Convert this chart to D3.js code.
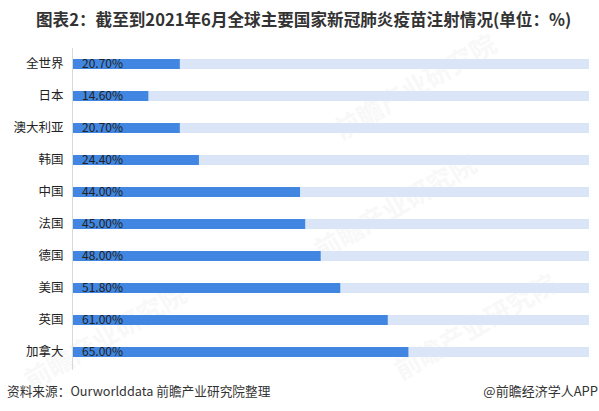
<!DOCTYPE html>
<html>
<head>
<meta charset="utf-8">
<script src="https://cdn.jsdelivr.net/npm/d3@7"></script>
<style>
  body { margin: 0; background: #fff; }
  svg text { font-family: "Noto Sans CJK SC", "Noto Sans", sans-serif; }
</style>
</head>
<body>
<div id="chart"></div>
<script>
var countries = ["全世界", "日本", "澳大利亚", "韩国", "中国", "法国", "德国", "美国", "英国", "加拿大"];
var rates = [20.7, 14.6, 20.7, 24.4, 44.0, 45.0, 48.0, 51.8, 61.0, 65.0];
var maxRate = 100;

var width = 599, height = 411;

var svg = d3.select("#chart").append("svg")
    .attr("width", width)
    .attr("height", height);

// faint watermarks
var marks = [[420, 95], [400, 215], [110, 345], [480, 335]];
svg.selectAll(".wm").data(marks).enter().append("text")
    .attr("class", "wm")
    .attr("transform", function(d){ return "translate(" + d[0] + "," + d[1] + ") rotate(-30)"; })
    .attr("text-anchor", "middle")
    .style("font-size", "26px")
    .style("font-weight", "bold")
    .style("fill", "#000")
    .style("opacity", 0.025)
    .text("前瞻产业研究院");

var x = d3.scaleLinear().domain([0, maxRate]).range([73, 589]);
var y = d3.scaleBand().domain(countries).range([48, 368])
    .paddingInner(22 / 32).paddingOuter(11 / 32);

svg.append("text")
    .attr("x", 36).attr("y", 26)
    .style("font-size", "16.6px")
    .style("font-weight", "bold")
    .style("fill", "#333")
    .text("图表2：截至到2021年6月全球主要国家新冠肺炎疫苗注射情况(单位：%)");

var rows = svg.selectAll(".row").data(countries).enter().append("g")
    .attr("class", "row");

rows.append("rect")
    .attr("x", x(0))
    .attr("y", function(d){ return y(d); })
    .attr("width", x(maxRate) - x(0))
    .attr("height", y.bandwidth())
    .style("fill", "#dae6f7");

rows.append("rect")
    .attr("x", x(0))
    .attr("y", function(d){ return y(d); })
    .attr("width", function(d, i){ return x(rates[i]) - x(0); })
    .attr("height", y.bandwidth())
    .style("fill", "#4186e0");

rows.append("text")
    .attr("x", x(0) + 9)
    .attr("y", function(d){ return y(d) + y.bandwidth() / 2; })
    .attr("dy", "0.36em")
    .style("font-size", "12px")
    .style("fill", "#222")
    .text(function(d, i){ return d3.format(".2f")(rates[i]) + "%"; });

var yAxis = svg.append("g")
    .attr("transform", "translate(" + (x(0) - 0.5) + ",0)")
    .call(d3.axisLeft(y).tickSize(0).tickPadding(9));
yAxis.select(".domain").attr("stroke", "#d9d9d9").attr("d", "M0,48V370");
yAxis.selectAll("text")
    .style("font-size", "12.5px")
    .style("fill", "#222")
    .style("font-family", "'Noto Sans CJK SC', sans-serif");

svg.append("text")
    .attr("x", 7).attr("y", 396)
    .style("font-size", "12.7px")
    .style("fill", "#333")
    .text("资料来源：Ourworlddata 前瞻产业研究院整理");

svg.append("text")
    .attr("x", 598).attr("y", 396)
    .attr("text-anchor", "end")
    .style("font-size", "13px")
    .style("fill", "#333")
    .text("@前瞻经济学人APP");
</script>
</body>
</html>
